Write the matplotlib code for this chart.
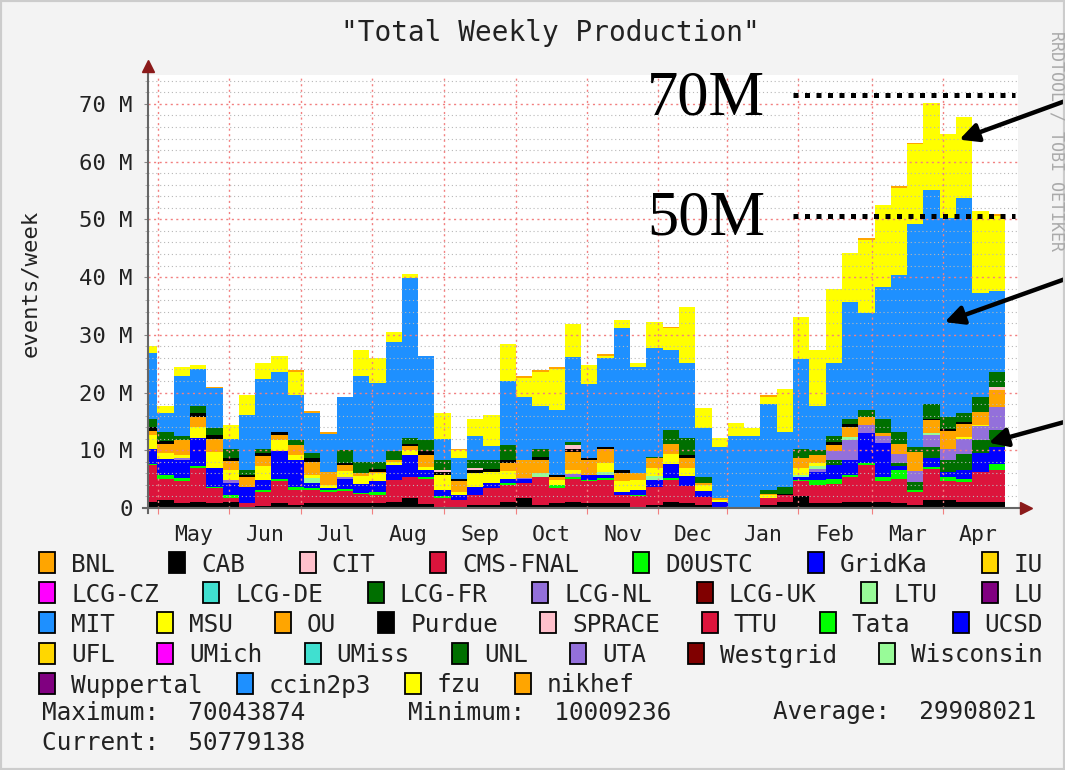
import numpy as np
import matplotlib
matplotlib.use('Agg')
import matplotlib.pyplot as plt
from matplotlib.patches import Rectangle

## Weekly production per site, millions of events.
## One bin per week, the first bin is only partly visible on the left.
weeks = np.arange(-1, 52)

cab = [1.1, 1.3, 0.8, 1.1, 0.8, 1.1, 0.0, 0.3, 0.8, 0.5, 0.8, 0.8, 0.8,
       0.8, 0.8, 1.1, 1.7, 0.7, 0.0, 0.0, 0.5, 0.5, 1.1, 1.7, 0.5, 0.8,
       1.1, 0.8, 0.8, 0.8, 0.0, 0.5, 1.1, 0.8, 0.5, 0.0, 0.0, 0.0, 0.5,
       1.1, 2.0, 0.9, 0.8, 1.1, 1.1, 1.1, 0.8, 0.5, 1.4, 1.4, 1.0, 1.1, 1.1]
cms_fnal = [6.3, 3.7, 3.8, 5.8, 2.6, 0.6, 0.8, 2.5, 3.8, 2.6, 2.3, 2.0, 2.2,
            1.7, 1.4, 3.8, 3.7, 4.3, 1.7, 1.4, 1.8, 2.9, 2.9, 2.7, 4.9, 2.6,
            3.9, 3.8, 4.1, 1.4, 2.0, 3.2, 3.8, 3.0, 1.4, 0.2, 0.0, 0.0, 1.2,
            1.1, 2.6, 3.0, 3.4, 4.2, 6.4, 3.5, 4.3, 2.3, 5.3, 3.2, 3.5, 5.1, 5.5]
d0ustc = [0.2, 0.7, 0.6, 0.3, 0.3, 0.6, 0.0, 0.3, 0.5, 0.6, 0.3, 0.4, 0.3,
          0.1, 0.6, 0.0, 0.0, 0.4, 0.3, 0.0, 0.0, 0.0, 0.3, 0.0, 0.0, 0.5,
          0.4, 0.3, 0.3, 0.0, 0.3, 0.0, 0.3, 0.0, 0.0, 0.0, 0.0, 0.0, 0.0,
          0.0, 0.3, 1.0, 0.9, 0.4, 0.3, 0.8, 1.5, 0.3, 0.4, 0.8, 0.6, 0.1, 1.1]
gridka = [2.6, 2.8, 3.1, 4.9, 3.2, 2.0, 2.9, 1.8, 4.7, 4.6, 1.0, 0.3, 1.8,
          1.5, 1.8, 2.6, 3.8, 1.1, 1.1, 0.8, 1.4, 0.9, 0.8, 0.6, 0.0, 0.0,
          0.0, 0.8, 0.5, 0.6, 0.8, 1.2, 2.4, 1.7, 1.1, 0.9, 0.0, 0.0, 0.0,
          0.0, 0.5, 1.3, 2.4, 2.6, 5.2, 5.8, 0.6, 0.0, 1.6, 0.8, 1.4, 3.2, 2.9]
lcg_fr = [0.0, 0.0, 0.0, 0.0, 0.0, 0.0, 0.0, 0.0, 0.0, 0.0, 0.0, 0.0, 0.0,
          0.0, 0.0, 0.0, 0.0, 0.0, 0.0, 0.0, 0.0, 0.0, 0.0, 0.0, 0.0, 0.0,
          0.0, 0.0, 0.0, 0.0, 0.0, 0.0, 0.0, 0.0, 0.0, 0.0, 0.0, 0.0, 0.0,
          0.0, 0.0, 0.0, 0.8, 0.0, 0.0, 0.0, 0.6, 1.4, 1.9, 2.2, 2.9, 2.3, 2.9]
lcg_nl = [0.0, 0.0, 0.4, 0.0, 0.0, 0.5, 0.0, 0.0, 0.0, 0.0, 0.0, 0.0, 0.3,
          0.0, 0.0, 0.0, 0.0, 0.0, 0.0, 0.0, 0.0, 0.0, 0.0, 0.2, 0.0, 0.0,
          0.5, 0.0, 0.0, 0.0, 0.0, 0.0, 0.0, 0.0, 0.0, 0.0, 0.0, 0.0, 0.0,
          0.0, 0.0, 0.6, 1.5, 3.5, 1.4, 1.2, 1.5, 1.9, 2.0, 1.9, 2.6, 2.4, 4.0]
ltu = [0.0, 0.0, 0.0, 0.0, 0.0, 0.0, 0.0, 0.0, 0.0, 0.0, 0.8, 0.0, 0.0,
       0.0, 0.0, 0.0, 0.0, 0.0, 0.0, 0.0, 0.0, 0.0, 0.0, 0.0, 0.6, 0.0,
       0.0, 0.0, 0.6, 0.0, 0.0, 0.6, 0.0, 0.0, 0.0, 0.0, 0.0, 0.0, 0.0,
       0.0, 0.3, 0.5, 0.0, 0.5, 0.0, 0.0, 0.0, 0.0, 0.4, 0.0, 0.0, 0.0, 0.0]
msu = [2.5, 1.1, 0.5, 2.0, 2.8, 1.7, 0.0, 2.3, 2.0, 0.9, 0.6, 0.5, 1.0,
       1.4, 1.4, 0.5, 0.9, 0.6, 2.6, 0.6, 2.3, 2.0, 1.3, 0.0, 0.0, 1.0,
       0.6, 0.0, 1.5, 1.8, 1.8, 1.4, 1.7, 1.5, 0.9, 0.3, 0.0, 0.0, 0.6,
       0.0, 1.2, 0.5, 0.0, 0.0, 0.0, 0.0, 0.0, 0.0, 0.0, 0.0, 0.3, 0.2, 0.0]
ou = [0.6, 1.5, 2.6, 1.7, 2.3, 1.7, 1.7, 1.8, 0.8, 1.7, 2.2, 2.3, 1.1,
      0.5, 0.3, 0.3, 0.6, 2.1, 0.0, 1.8, 0.1, 0.0, 1.4, 3.1, 2.3, 0.5,
      3.2, 2.6, 2.4, 1.4, 1.1, 1.7, 1.7, 1.7, 0.4, 0.3, 0.0, 0.0, 0.2,
      0.0, 1.7, 1.4, 1.1, 1.7, 1.3, 0.6, 1.7, 3.3, 2.2, 3.0, 2.3, 2.3, 2.9]
purdue = [0.8, 0.5, 0.0, 0.6, 0.6, 0.5, 0.3, 0.5, 0.6, 0.0, 0.6, 0.0, 0.3,
          0.0, 0.5, 0.0, 0.3, 0.6, 0.5, 0.5, 0.5, 0.5, 0.5, 0.0, 0.6, 0.3,
          0.6, 0.3, 0.4, 0.5, 0.0, 0.0, 0.0, 0.5, 0.0, 0.0, 0.0, 0.0, 0.0,
          0.3, 0.0, 0.0, 0.5, 0.5, 0.0, 0.0, 0.0, 0.0, 0.2, 0.4, 0.3, 0.0, 0.0]
sprace = [0.0, 0.0, 0.0, 0.0, 0.0, 0.0, 0.0, 0.0, 0.0, 0.0, 0.0, 0.0, 0.0,
          0.0, 0.0, 0.0, 0.0, 0.0, 0.4, 0.0, 0.3, 0.0, 0.0, 0.0, 0.0, 0.0,
          0.6, 0.0, 0.0, 0.0, 0.0, 0.0, 0.0, 0.0, 0.0, 0.0, 0.0, 0.0, 0.0,
          0.0, 0.0, 0.0, 0.0, 0.0, 0.0, 0.0, 0.0, 0.0, 0.0, 0.0, 0.0, 0.0, 0.6]
unl = [1.3, 1.6, 0.6, 1.2, 1.2, 1.6, 0.8, 0.8, 0.0, 0.9, 0.9, 0.0, 2.3,
       2.0, 1.2, 1.5, 1.1, 2.0, 1.7, 0.0, 1.4, 1.5, 2.6, 0.0, 1.4, 0.0,
       0.6, 0.0, 0.0, 0.0, 0.0, 0.3, 2.5, 2.9, 1.0, 0.0, 0.0, 0.0, 0.6,
       1.2, 1.6, 0.8, 1.1, 0.9, 1.2, 2.4, 2.1, 0.9, 2.7, 2.0, 1.6, 2.5, 2.6]
ccin2p3 = [11.5, 3.2, 10.5, 6.4, 6.9, 1.7, 9.6, 12.1, 10.4, 7.8, 7.0, 6.5, 9.1,
           14.9, 13.7, 19.0, 27.7, 14.5, 3.7, 3.5, 4.1, 2.5, 11.1, 10.9, 7.4, 11.3,
           14.7, 12.9, 15.3, 24.6, 18.5, 18.9, 13.9, 13.1, 8.6, 8.8, 12.4, 12.4, 14.9,
           9.5, 15.6, 7.7, 12.7, 20.2, 16.8, 22.8, 27.3, 38.6, 37.0, 34.5, 37.2, 18.1, 14.0]
fzu = [1.2, 1.2, 1.5, 0.8, 0.1, 2.3, 3.5, 2.8, 2.7, 4.0, 0.0, 0.0, 0.0,
       4.5, 4.2, 1.6, 0.7, 0.0, 4.5, 1.4, 3.0, 5.3, 6.4, 3.4, 5.9, 7.1,
       5.6, 3.3, 0.4, 1.5, 0.7, 4.4, 3.7, 9.7, 3.4, 1.6, 2.3, 1.4, 1.3,
       7.4, 7.2, 9.7, 12.7, 8.6, 12.7, 14.3, 15.1, 13.8, 15.0, 14.6, 14.1, 14.2, 13.0]
nikhef = [0.0, 0.0, 0.0, 0.0, 0.2, 0.0, 0.0, 0.0, 0.0, 0.3, 0.3, 0.3, 0.0,
          0.0, 0.0, 0.0, 0.0, 0.0, 0.0, 0.2, 0.0, 0.0, 0.0, 0.3, 0.3, 0.3,
          0.0, 0.0, 0.3, 0.0, 0.0, 0.0, 0.3, 0.0, 0.0, 0.0, 0.0, 0.0, 0.3,
          0.0, 0.0, 0.0, 0.0, 0.0, 0.3, 0.0, 0.3, 0.3, 0.0, 0.0, 0.0, 0.0, 0.3]

# legend order = stacking order (bottom to top)
sites = ['BNL', 'CAB', 'CIT', 'CMS-FNAL', 'D0USTC', 'GridKa', 'IU',
         'LCG-CZ', 'LCG-DE', 'LCG-FR', 'LCG-NL', 'LCG-UK', 'LTU', 'LU',
         'MIT', 'MSU', 'OU', 'Purdue', 'SPRACE', 'TTU', 'Tata', 'UCSD',
         'UFL', 'UMich', 'UMiss', 'UNL', 'UTA', 'Westgrid', 'Wisconsin',
         'Wuppertal', 'ccin2p3', 'fzu', 'nikhef']
production = {'CAB': cab, 'CMS-FNAL': cms_fnal, 'D0USTC': d0ustc, 'GridKa': gridka,
              'LCG-FR': lcg_fr, 'LCG-NL': lcg_nl, 'LTU': ltu, 'MSU': msu, 'OU': ou,
              'Purdue': purdue, 'SPRACE': sprace, 'UNL': unl, 'ccin2p3': ccin2p3,
              'fzu': fzu, 'nikhef': nikhef}
months = ['May', 'Jun', 'Jul', 'Aug', 'Sep', 'Oct', 'Nov', 'Dec', 'Jan', 'Feb', 'Mar', 'Apr']
stats = ['Maximum:  70043874', 'Minimum:  10009236', 'Average:  29908021', 'Current:  50779138']

## Styles
site_colors = ['#FFA500', '#000000', '#FFC0CB', '#DC143C', '#00FF00', '#0000FF', '#FFD700',
               '#FF00FF', '#40E0D0', '#006F00', '#9370DB', '#800000', '#98FB98', '#800080',
               '#1E90FF', '#FFFF00', '#FFA500', '#000000', '#FFC0CB', '#DC143C', '#00FF00', '#0000FF',
               '#FFD700', '#FF00FF', '#40E0D0', '#006F00', '#9370DB', '#800000', '#98FB98',
               '#800080', '#1E90FF', '#FFFF00', '#FFA500']
month_lines = [0.06, 4.42, 8.82, 13.19, 17.59, 21.99, 26.34, 30.74, 34.97, 39.33, 43.87, 48.22]
mono = 'DejaVu Sans Mono'
W, H = 1065, 770
bg = '#f3f3f3'

fig = plt.figure(figsize=(W/100, H/100), dpi=100, facecolor=bg)
ax = fig.add_axes([148/W, 1-508/H, (1018-148)/W, (508-75)/H])
ax.set_facecolor('white')

# stacked weekly bins
edges = np.append(weeks, weeks[-1]+1)
bottom = np.zeros(len(weeks))
for name, col in zip(sites, site_colors):
    vals = np.array(production.get(name, np.zeros(len(weeks))))*1e6
    if vals.any():
        ax.stairs(bottom+vals, edges, baseline=bottom, fill=True, color=col, lw=0)
    bottom = bottom + vals

ax.set_xlim(-0.571, 52.8)
ax.set_ylim(0, 75e6)

# grid drawn over the data, rrdtool style
for v in np.arange(2e6, 75e6, 2e6):
    if int(round(v/1e6)) % 10 == 0:
        ax.axhline(v, color='#f28080', lw=1.0, ls=(0, (1.5, 2.5)), zorder=5)
    else:
        ax.axhline(v, color='#b8b8b8', lw=0.8, ls=(0, (1, 2.5)), zorder=5)
for m in month_lines:
    ax.axvline(m, color='#f28080', lw=1.0, ls=(0, (1.5, 2.5)), zorder=5)

for s in ax.spines.values():
    s.set_visible(False)

ax.set_yticks(np.arange(0, 71e6, 10e6))
ax.set_yticks(np.arange(0, 75e6, 2e6), minor=True)
ax.set_yticklabels(['0' if v == 0 else '%d M' % (v/1e6) for v in np.arange(0, 71e6, 10e6)])
ax.tick_params(axis='y', which='major', length=3, color='#888888', pad=8, labelsize=16,
               labelcolor='#222222')
ax.tick_params(axis='y', which='minor', length=2, color='#aaaaaa')
for lab in ax.get_yticklabels():
    lab.set_family(mono)

ax.set_xticks(month_lines)
ax.set_xticklabels([])
mids = [(a+b)/2 for a, b in zip(month_lines[:-1], month_lines[1:])] + [50.35]
ax.set_xticks(mids, minor=True)
ax.set_xticklabels(months, minor=True)
ax.tick_params(axis='x', which='major', length=4, color='#f28080', direction='out')
ax.tick_params(axis='x', which='minor', length=0, pad=12, labelsize=15.5, labelcolor='#222222')
for lab in ax.get_xticklabels(minor=True):
    lab.set_family(mono)

# axis lines with arrow heads
ax.plot([-0.571, -0.571], [-0.8e6, 76.2e6], color='#666666', lw=1.5, clip_on=False, zorder=6)
ax.plot([-0.85, 53.2], [0, 0], color='#666666', lw=1.5, clip_on=False, zorder=6)
ax.plot([-0.571], [76.6e6], marker='^', ms=9, color='#8b1a1a', clip_on=False, zorder=7)
ax.plot([53.3], [0], marker='>', ms=9, color='#8b1a1a', clip_on=False, zorder=7)

# texts around the graph
fig.text(550/W, 1-33/H, '"Total Weekly Production"', family=mono, fontsize=20,
         ha='center', va='center', color='#222222')
fig.text(30/W, 1-283/H, 'events/week', family=mono, fontsize=16, rotation=90,
         ha='center', va='center', color='#222222')
fig.text(1057/W, 1-141/H, 'RRDTOOL / TOBI OETIKER', family=mono, fontsize=12,
         rotation=270, ha='center', va='center', color='#aaaaaa')

# hand-made annotations
ax.text(33.66, 70.7e6, '70M', family='Liberation Serif', fontsize=45, ha='center', va='center', zorder=8)
ax.text(33.66, 49.9e6, '50M', family='Liberation Serif', fontsize=45, ha='center', va='center', zorder=8)
for lvl in [71.6e6, 50.6e6]:
    ax.plot([39.0, 52.6], [lvl, lvl], color='black', lw=3.6, ls=(0, (1, 1.3)),
            dash_capstyle='butt', zorder=8, clip_on=False)
for tip, tail in [((49.2, 63.8e6), (1068, H-100)), ((48.3, 32.2e6), (1068, H-278)),
                  ((51.0, 11.3e6), (1068, H-421))]:
    ax.annotate('', xy=tip, xycoords='data', xytext=tail, textcoords='figure pixels',
                arrowprops=dict(arrowstyle='-|>', lw=3.2, color='black', mutation_scale=28,
                                shrinkA=0, shrinkB=0), zorder=9, annotation_clip=False)

# legend, justified rows like rrdtool
renderer = fig.canvas.get_renderer()
row_sizes = [7, 7, 8, 7, 4]
row_y = [562, 592, 622, 653, 683]
left, right = 39, 1043
box_w, box_h, box_gap = 16, 21, 16
i = 0
for n, yc in zip(row_sizes, row_y):
    names = sites[i:i+n]
    cols = site_colors[i:i+n]
    i += n
    texts = [fig.text(0, 0, nm, family=mono, fontsize=17.6, va='baseline', color='#222222')
             for nm in names]
    widths = [box_w + box_gap + t.get_window_extent(renderer).width for t in texts]
    gap = 34 if n < 5 else (right - left - sum(widths))/(n-1)
    x = left
    for t, c, w in zip(texts, cols, widths):
        fig.add_artist(Rectangle((x/W, 1-(yc+box_h/2)/H), box_w/W, box_h/H,
                                 transform=fig.transFigure, fc=c, ec='black', lw=1.3))
        t.set_position(((x+box_w+box_gap)/W, 1-(yc+9.5)/H))
        x += w + gap

for txt, px, py in zip(stats, [42, 408, 773, 42], [719.5, 719.5, 719.5, 749.5]):
    fig.text(px/W, 1-py/H, txt, family=mono, fontsize=17.6, va='baseline', color='#222222')

fig.add_artist(Rectangle((0, 0), 1, 1, transform=fig.transFigure, fill=False,
                         ec='#cccccc', lw=3))

fig.savefig('out.png', dpi=100, facecolor=bg)
